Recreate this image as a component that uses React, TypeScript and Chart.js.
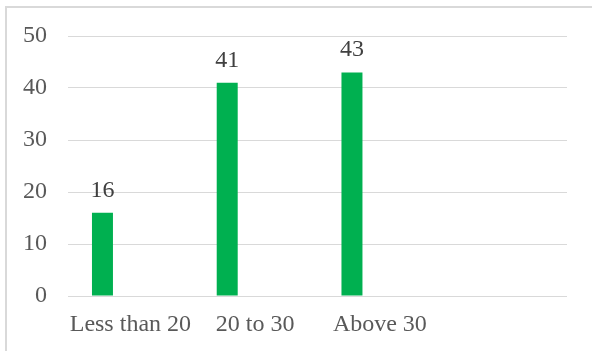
import { useEffect, useRef } from "react";
import { Chart, registerables } from "chart.js";

Chart.register(...registerables);

// Age groups along the x axis; the trailing blank slot keeps the plot's spacing.
const categories = ["Less than 20", "20 to 30", "Above 30", ""];
// Respondents per age group.
const respondents: (number | null)[] = [16, 41, 43, null];
// Second, empty series of the clustered layout.
const emptySeries: (number | null)[] = [null, null, null, null];
// Value axis ticks.
const yTicks = [0, 10, 20, 30, 40, 50];

const FONT_FAMILY = "'Liberation Serif', 'Times New Roman', serif";
const FONT_SIZE = 24;

const valueLabels = {
  id: "valueLabels",
  afterDatasetsDraw(chart: any) {
    const ctx = chart.ctx;
    const meta = chart.getDatasetMeta(0);
    const data = chart.data.datasets[0].data;
    ctx.save();
    ctx.font = `${FONT_SIZE}px ${FONT_FAMILY}`;
    ctx.fillStyle = "#404040";
    ctx.textAlign = "center";
    ctx.textBaseline = "alphabetic";
    meta.data.forEach((bar: any, i: number) => {
      const v = data[i];
      if (v === null || v === undefined) return;
      ctx.fillText(String(v), bar.x, bar.y - 16);
    });
    ctx.restore();
  },
};

export default function App() {
  const canvasRef = useRef<HTMLCanvasElement | null>(null);

  useEffect(() => {
    document.body.style.margin = "0";
    const canvas = canvasRef.current;
    if (!canvas) return;
    const font = { family: FONT_FAMILY, size: FONT_SIZE };
    const chart = new Chart(canvas, {
      type: "bar",
      data: {
        labels: categories,
        datasets: [
          {
            label: "Respondents",
            data: respondents,
            backgroundColor: "#00B050",
            borderWidth: 0,
            categoryPercentage: 0.895,
            barPercentage: 0.376,
          },
          {
            label: "",
            data: emptySeries,
            backgroundColor: "#00B050",
            borderWidth: 0,
            categoryPercentage: 0.895,
            barPercentage: 0.376,
          },
        ],
      },
      options: {
        animation: false,
        responsive: false,
        maintainAspectRatio: false,
        layout: { padding: { top: 36, right: 25, left: 0, bottom: 0 } },
        plugins: {
          legend: { display: false },
          tooltip: { enabled: false },
        },
        scales: {
          x: {
            grid: { display: false, drawTicks: false },
            border: { display: false },
            ticks: {
              color: "#595959",
              font,
              padding: 14,
              autoSkip: false,
              maxRotation: 0,
            },
            afterFit: (scale: any) => {
              scale.height = 55;
            },
          },
          y: {
            min: 0,
            max: 50,
            afterBuildTicks: (scale: any) => {
              scale.ticks = yTicks.map((v) => ({ value: v }));
            },
            ticks: { color: "#595959", font, padding: 21 },
            grid: { color: "#d9d9d9", lineWidth: 1, drawTicks: false },
            border: { display: false },
            afterFit: (scale: any) => {
              scale.width = 68;
            },
          },
        },
      },
      plugins: [valueLabels],
    });
    return () => chart.destroy();
  }, []);

  return (
    <div
      style={{
        position: "absolute",
        left: 0,
        top: 0,
        width: 592,
        height: 351,
        overflow: "hidden",
        background: "#ffffff",
      }}
    >
      <div
        style={{
          position: "absolute",
          left: 5,
          top: 6,
          width: 700,
          height: 500,
          border: "2px solid #d9d9d9",
          boxSizing: "border-box",
        }}
      />
      <canvas
        ref={canvasRef}
        width={592}
        height={351}
        style={{ position: "absolute", left: 0, top: 0, width: 592, height: 351 }}
      />
    </div>
  );
}
